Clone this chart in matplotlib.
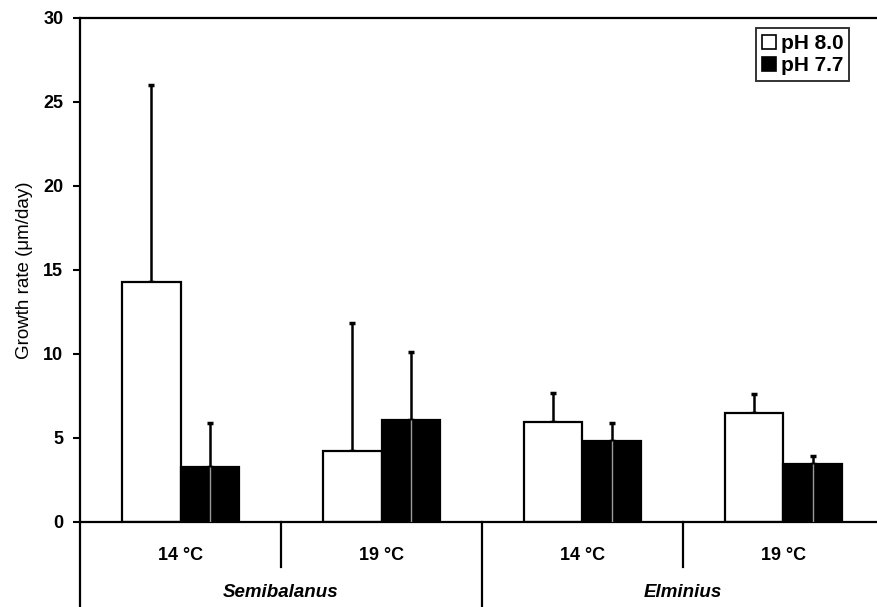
import matplotlib
matplotlib.use("Agg")
import matplotlib.pyplot as plt
import numpy as np
from matplotlib.patches import Patch

plt.rcParams['font.family'] = ['Liberation Sans', 'DejaVu Sans']

# Data
temps = ["14 °C", "19 °C", "14 °C", "19 °C"]
species = ["Semibalanus", "Elminius"]
series_labels = ["pH 8.0", "pH 7.7"]
ph80_mean = [14.3, 4.2, 5.95, 6.5]
ph80_err = [11.7, 7.65, 1.75, 1.1]
ph77_mean = [3.3, 6.1, 4.8, 3.45]
ph77_err = [2.6, 4.0, 1.1, 0.45]

W, H = 877, 607
fig = plt.figure(figsize=(W / 100, H / 100), dpi=100)
ax = fig.add_axes([80 / W, (H - 522) / H, 804 / W, 504 / H])

x = np.arange(len(temps))
bw = 0.29
ax.bar(x - bw / 2, ph80_mean, bw, color='white', edgecolor='black', linewidth=1.6, zorder=2)
ax.bar(x + bw / 2, ph77_mean, bw, color='black', edgecolor='black', linewidth=1.6, zorder=2)

# faint inner line in dark bars (as in the scan)
ax.vlines(x + bw / 2, 0, ph77_mean, color='#9a9a9a', lw=1.0, zorder=3)

zeros = np.zeros(len(temps))
ax.errorbar(x - bw / 2, ph80_mean, yerr=[zeros, ph80_err], fmt='none', ecolor='black',
            elinewidth=1.8, capsize=2.5, capthick=2.5, zorder=1)
ax.errorbar(x + bw / 2, ph77_mean, yerr=[zeros, ph77_err], fmt='none', ecolor='black',
            elinewidth=1.8, capsize=2.5, capthick=2.5, zorder=1)

ax.set_xlim(-0.5, 3.5)
ax.set_ylim(0, 30)
ax.set_yticks(np.arange(0, 31, 5))
ax.set_xticks([])
for lab in ax.get_yticklabels():
    lab.set_fontweight('bold')
ax.tick_params(axis='y', direction='out', length=5, width=1.5, pad=7, labelsize=13)

for s in ['left', 'top', 'bottom']:
    ax.spines[s].set_linewidth(1.6)
ax.spines['right'].set_visible(False)

ax.set_ylabel("Growth rate (μm/day)", fontsize=13.5)
ax.yaxis.set_label_coords(-0.058, 0.5)

# category table below the axis
trans = ax.get_xaxis_transform()
for i, t in enumerate(temps):
    ax.text(x[i], -0.067, t, transform=trans, ha='center', va='center',
            fontsize=13, fontweight='bold')
for xs in [0.5, 2.5]:
    ax.plot([xs, xs], [0, -0.09], transform=trans, color='black', lw=1.6, clip_on=False)
for xs in [-0.5, 1.5]:
    ax.plot([xs, xs], [0, -0.2], transform=trans, color='black', lw=1.6, clip_on=False)
for g, sp in enumerate(species):
    ax.text(2 * g + 0.5, -0.139, sp, transform=trans, ha='center', va='center',
            fontsize=13.5, fontweight='bold', fontstyle='italic')

handles = [Patch(facecolor='white', edgecolor='black', linewidth=1.2),
           Patch(facecolor='black', edgecolor='black', linewidth=1.2)]
leg = ax.legend(handles, series_labels, loc='upper right', bbox_to_anchor=(0.957, 0.980),
                prop={'weight': 'bold', 'size': 15}, frameon=True, fancybox=False,
                edgecolor='black', handlelength=0.65, handleheight=0.65,
                handletextpad=0.25, borderpad=0.28, labelspacing=0.15, borderaxespad=0)
leg.get_frame().set_linewidth(1.4)

fig.savefig("out.png", dpi=100)
